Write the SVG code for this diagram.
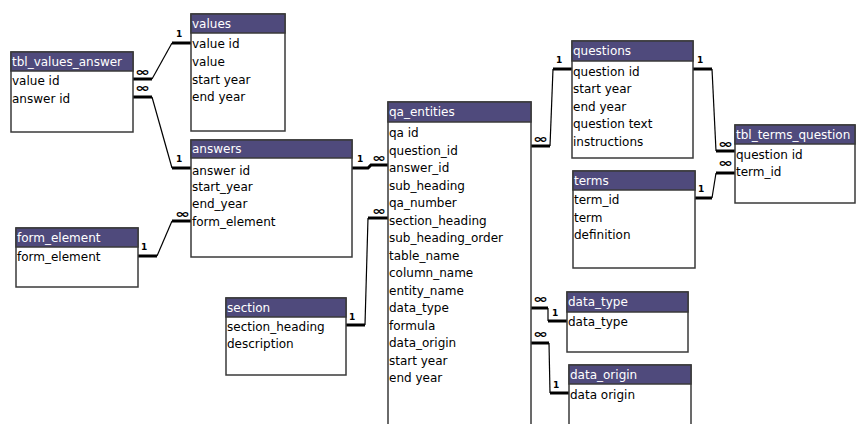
<svg xmlns="http://www.w3.org/2000/svg" width="856" height="424" viewBox="0 0 856 424">
<style>
.box{fill:#fff;stroke:#3a3a3a;stroke-width:1.5}
.hdr{fill:#4f4a7c;stroke:#3a3a3a;stroke-width:1.5}
.ht{font-family:"DejaVu Sans",sans-serif;font-size:12px;fill:#fff}
.rt{font-family:"DejaVu Sans",sans-serif;font-size:12px;fill:#000}
.thick{stroke:#000;stroke-width:3;fill:none}
.thin{stroke:#000;stroke-width:1.2;fill:none}
.one{font-family:"DejaVu Sans",sans-serif;font-size:9px;font-weight:bold;fill:#000}
.inf{font-family:"DejaVu Sans",sans-serif;font-size:12px;font-weight:bold;fill:#000}
</style>
<rect width="856" height="424" fill="#fff"/>
<g id="connectors">
  <!-- tbl_values_answer -> values -->
  <path class="thick" d="M133,79H152"/><path class="thin" d="M152,79L172,43"/><path class="thick" d="M172,43H191"/>
  <text class="inf" x="135" y="76" textLength="15" lengthAdjust="spacingAndGlyphs">∞</text><text class="one" x="176" y="37">1</text>
  <!-- tbl_values_answer -> answers -->
  <path class="thick" d="M133,97H152"/><path class="thin" d="M152,97L172,168"/><path class="thick" d="M172,168H191"/>
  <text class="inf" x="135" y="92" textLength="15" lengthAdjust="spacingAndGlyphs">∞</text><text class="one" x="176" y="162">1</text>
  <!-- form_element -> answers -->
  <path class="thick" d="M138,256H157"/><path class="thin" d="M157,256L172,221"/><path class="thick" d="M172,221H191"/>
  <text class="one" x="141" y="250">1</text><text class="inf" x="175" y="218" textLength="15" lengthAdjust="spacingAndGlyphs">∞</text>
  <!-- answers -> qa_entities -->
  <path class="thick" d="M352,168H368L371,165H388"/>
  <text class="one" x="357" y="162">1</text><text class="inf" x="372" y="162" textLength="14" lengthAdjust="spacingAndGlyphs">∞</text>
  <!-- section -> qa_entities -->
  <path class="thick" d="M346,325H365"/><path class="thin" stroke-width="1.6" d="M365,325L368,218"/><path class="thick" d="M368,218H388"/>
  <text class="one" x="349" y="320">1</text><text class="inf" x="372" y="215" textLength="14" lengthAdjust="spacingAndGlyphs">∞</text>
  <!-- qa_entities -> questions -->
  <path class="thick" d="M531,146H550"/><path class="thin" stroke-width="1.6" d="M550,146L553,69"/><path class="thick" d="M553,69H572"/>
  <text class="inf" x="533" y="143" textLength="15" lengthAdjust="spacingAndGlyphs">∞</text><text class="one" x="556" y="63">1</text>
  <!-- questions -> tbl_terms_question -->
  <path class="thick" d="M693,69H712"/><path class="thin" stroke-width="1.6" d="M712,69L716,151"/><path class="thick" d="M716,151H735"/>
  <text class="one" x="697" y="63">1</text><text class="inf" x="718" y="148" textLength="15" lengthAdjust="spacingAndGlyphs">∞</text>
  <!-- terms -> tbl_terms_question -->
  <path class="thick" d="M695,198H712"/><path class="thin" stroke-width="1.6" d="M712,198L716,173"/><path class="thick" d="M716,173H735"/>
  <text class="one" x="698" y="192">1</text><text class="inf" x="718" y="167" textLength="15" lengthAdjust="spacingAndGlyphs">∞</text>
  <!-- qa_entities -> data_type -->
  <path class="thick" d="M531,308H548"/><path class="thin" stroke-width="1.6" d="M548,308V321"/><path class="thick" d="M548,321H567"/>
  <text class="inf" x="533" y="303" textLength="15" lengthAdjust="spacingAndGlyphs">∞</text><text class="one" x="552" y="316">1</text>
  <!-- qa_entities -> data_origin -->
  <path class="thick" d="M531,343H549"/><path class="thin" stroke-width="1.6" d="M549,343L550,393"/><path class="thick" d="M550,393H569"/>
  <text class="inf" x="533" y="338" textLength="15" lengthAdjust="spacingAndGlyphs">∞</text><text class="one" x="553" y="388">1</text>
</g>
<g id="tbl_values_answer">
  <rect class="box" x="11" y="52" width="122" height="80"/>
  <rect class="hdr" x="11" y="52" width="122" height="19"/>
  <text class="ht" x="12" y="66">tbl_values_answer</text>
  <text class="rt" x="12" y="85">value id</text>
  <text class="rt" x="12" y="103">answer id</text>
</g>
<g id="values">
  <rect class="box" x="191" y="14" width="94" height="117"/>
  <rect class="hdr" x="191" y="14" width="94" height="19"/>
  <text class="ht" x="192" y="28">values</text>
  <text class="rt" x="192" y="48">value id</text>
  <text class="rt" x="192" y="66">value</text>
  <text class="rt" x="192" y="84">start year</text>
  <text class="rt" x="192" y="101">end year</text>
</g>
<g id="answers">
  <rect class="box" x="191" y="140" width="161" height="117"/>
  <rect class="hdr" x="191" y="140" width="161" height="18"/>
  <text class="ht" x="192" y="153">answers</text>
  <text class="rt" x="192" y="175">answer id</text>
  <text class="rt" x="192" y="191">start_year</text>
  <text class="rt" x="192" y="208">end_year</text>
  <text class="rt" x="192" y="226">form_element</text>
</g>
<g id="form_element">
  <rect class="box" x="16" y="228" width="122" height="59"/>
  <rect class="hdr" x="16" y="228" width="122" height="19"/>
  <text class="ht" x="17" y="242">form_element</text>
  <text class="rt" x="17" y="261">form_element</text>
</g>
<g id="qa_entities">
  <rect class="box" x="388" y="102" width="143" height="330"/>
  <rect class="hdr" x="388" y="102" width="143" height="20"/>
  <text class="ht" x="389" y="116">qa_entities</text>
  <text class="rt" x="389" y="137">qa id</text>
  <text class="rt" x="389" y="154.5">question_id</text>
  <text class="rt" x="389" y="172">answer_id</text>
  <text class="rt" x="389" y="189.5">sub_heading</text>
  <text class="rt" x="389" y="207">qa_number</text>
  <text class="rt" x="389" y="224.5">section_heading</text>
  <text class="rt" x="389" y="242">sub_heading_order</text>
  <text class="rt" x="389" y="259.5">table_name</text>
  <text class="rt" x="389" y="277">column_name</text>
  <text class="rt" x="389" y="294.5">entity_name</text>
  <text class="rt" x="389" y="312">data_type</text>
  <text class="rt" x="389" y="329.5">formula</text>
  <text class="rt" x="389" y="347">data_origin</text>
  <text class="rt" x="389" y="364.5">start year</text>
  <text class="rt" x="389" y="382">end year</text>
</g>
<g id="section">
  <rect class="box" x="226" y="298" width="120" height="77"/>
  <rect class="hdr" x="226" y="298" width="120" height="19"/>
  <text class="ht" x="227" y="312">section</text>
  <text class="rt" x="227" y="331">section_heading</text>
  <text class="rt" x="227" y="348">description</text>
</g>
<g id="questions">
  <rect class="box" x="572" y="41" width="121" height="117"/>
  <rect class="hdr" x="572" y="41" width="121" height="20"/>
  <text class="ht" x="573" y="55">questions</text>
  <text class="rt" x="573" y="76">question id</text>
  <text class="rt" x="573" y="93">start year</text>
  <text class="rt" x="573" y="111">end year</text>
  <text class="rt" x="573" y="128">question text</text>
  <text class="rt" x="573" y="146">instructions</text>
</g>
<g id="tbl_terms_question">
  <rect class="box" x="735" y="125" width="120" height="78"/>
  <rect class="hdr" x="735" y="125" width="120" height="19"/>
  <text class="ht" x="736" y="139">tbl_terms_question</text>
  <text class="rt" x="736" y="159">question id</text>
  <text class="rt" x="736" y="176">term_id</text>
</g>
<g id="terms">
  <rect class="box" x="573" y="171" width="122" height="97"/>
  <rect class="hdr" x="573" y="171" width="122" height="19"/>
  <text class="ht" x="574" y="185">terms</text>
  <text class="rt" x="574" y="204">term_id</text>
  <text class="rt" x="574" y="222">term</text>
  <text class="rt" x="574" y="239">definition</text>
</g>
<g id="data_type">
  <rect class="box" x="567" y="292" width="121" height="60"/>
  <rect class="hdr" x="567" y="292" width="121" height="20"/>
  <text class="ht" x="568" y="306">data_type</text>
  <text class="rt" x="568" y="326">data_type</text>
</g>
<g id="data_origin">
  <rect class="box" x="569" y="365" width="122" height="70"/>
  <rect class="hdr" x="569" y="365" width="122" height="19"/>
  <text class="ht" x="570" y="379">data_origin</text>
  <text class="rt" x="570" y="399">data origin</text>
</g>
</svg>
